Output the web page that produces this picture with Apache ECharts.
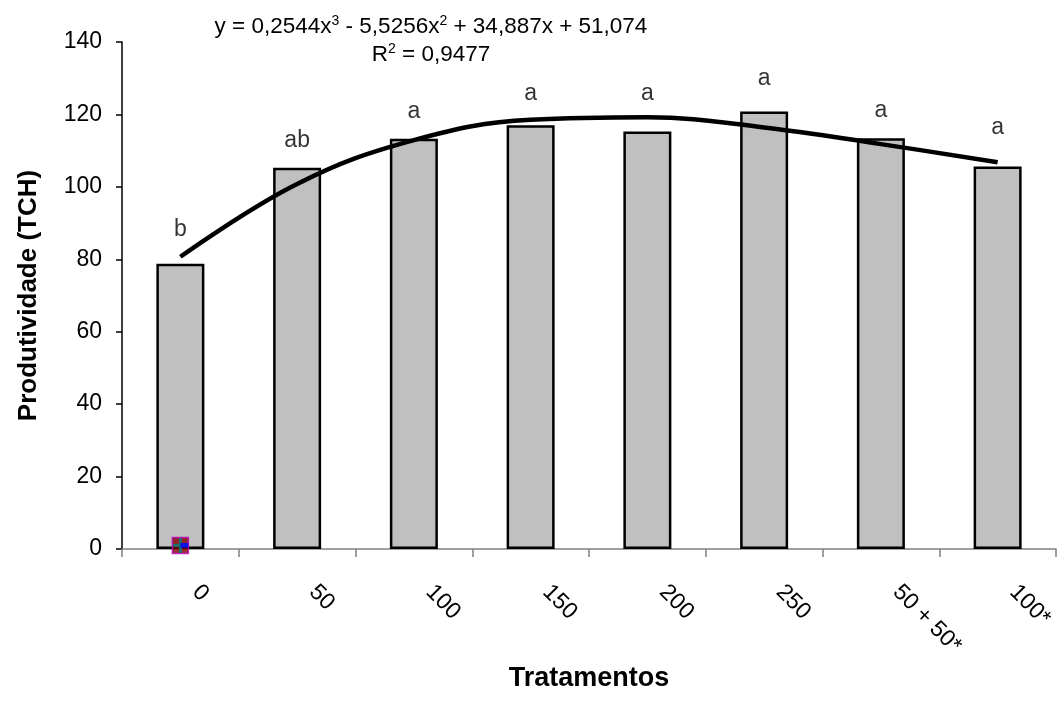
<!DOCTYPE html>
<html>
<head>
<meta charset="utf-8">
<title>Produtividade (TCH)</title>
<script src="https://cdn.jsdelivr.net/npm/echarts@6/dist/echarts.min.js"></script>
<style>
  html, body { margin: 0; padding: 0; background: #fff; }
  #chart { width: 1059px; height: 711px; }
</style>
</head>
<body>
<div id="chart"></div>
<script>
// Produtividade por tratamento, com curva de tendência polinomial (grau 3)
var tratamentos = ['0', '50', '100', '150', '200', '250', '50 + 50*', '100*'];
var produtividade = [78.8, 105.3, 113.3, 117.0, 115.3, 120.8, 113.4, 105.6];
var letras = ['b', 'ab', 'a', 'a', 'a', 'a', 'a', 'a'];
var letrasY = [88.2, 112.8, 120.7, 125.8, 125.8, 129.8, 121.0, 116.4];
var tendencia = [80.7, 100.8, 112.9, 118.5, 119.2, 116.4, 111.8, 106.8];
var marcador = [[0, 1]];

var FONTE = '"Liberation Sans", Arial, sans-serif';
var SUP = { fontSize: 14, verticalAlign: 'bottom', padding: [0, 0, 12, 0] };

var chart = echarts.init(document.getElementById('chart'));

var option = {
  backgroundColor: '#fff',
  animation: false,
  textStyle: { fontFamily: FONTE, color: '#000' },
  grid: { left: 122, right: 3, top: 42, bottom: 162 },
  graphic: [
    {
      type: 'text', x: 431, y: 27,
      style: {
        text: 'y = 0,2544x{s|3} - 5,5256x{s|2} + 34,887x + 51,074',
        font: '22.5px ' + FONTE, fill: '#000', align: 'center', verticalAlign: 'middle',
        rich: { s: SUP }
      }
    },
    {
      type: 'text', x: 431, y: 55,
      style: {
        text: 'R{s|2} = 0,9477',
        font: '22.5px ' + FONTE, fill: '#000', align: 'center', verticalAlign: 'middle',
        rich: { s: SUP }
      }
    }
  ],
  xAxis: {
    type: 'category',
    data: tratamentos,
    name: 'Tratamentos',
    nameLocation: 'middle',
    nameGap: 116,
    nameTextStyle: { fontSize: 27, fontWeight: 'bold', color: '#000', fontFamily: FONTE },
    axisLine: { lineStyle: { color: '#808080', width: 1.5 } },
    axisTick: { show: true, length: 8, interval: 0, lineStyle: { color: '#808080', width: 1.5 } },
    axisLabel: {
      rotate: -45, margin: 24, fontSize: 23, color: '#000', interval: 0,
      padding: [0, 0, 0, 22], fontFamily: FONTE
    },
    splitLine: { show: false }
  },
  yAxis: {
    type: 'value',
    min: 0, max: 140, interval: 20,
    name: 'Produtividade (TCH)',
    nameLocation: 'middle',
    nameGap: 80,
    nameTextStyle: { fontSize: 26, fontWeight: 'bold', color: '#000', fontFamily: FONTE },
    axisLine: { show: true, lineStyle: { color: '#000', width: 1.5 } },
    axisTick: { show: true, length: 6, lineStyle: { color: '#000', width: 1.5 } },
    axisLabel: { fontSize: 23, color: '#000', margin: 20, fontFamily: FONTE },
    splitLine: { show: false }
  },
  series: [
    {
      name: 'Produtividade',
      type: 'bar',
      data: produtividade,
      barWidth: 48,
      itemStyle: { color: '#C0C0C0', borderColor: '#000', borderWidth: 2.5 },
      z: 2
    },
    {
      name: 'Tendência',
      type: 'line',
      data: tendencia,
      smooth: 0.4,
      symbol: 'none',
      lineStyle: { color: '#000', width: 4.5 },
      z: 3
    },
    {
      name: 'Letras',
      type: 'scatter',
      data: letrasY.map(function (v, i) { return { value: [i, v], label: { formatter: letras[i] } }; }),
      symbolSize: 1,
      itemStyle: { color: 'rgba(0,0,0,0)' },
      label: { show: true, position: 'inside', fontSize: 23, color: '#000', fontFamily: FONTE },
      z: 4
    },
    {
      name: 'Marcador',
      type: 'scatter',
      data: marcador,
      symbol: 'rect',
      symbolSize: 16,
      itemStyle: { color: '#800000', borderColor: '#C000C0', borderWidth: 1.5 },
      z: 5
    },
    {
      name: 'Marcador cruz',
      type: 'scatter',
      data: marcador,
      symbol: 'path://M4,0 L6,0 L6,4 L10,4 L10,6 L6,6 L6,10 L4,10 L4,6 L0,6 L0,4 L4,4 Z',
      symbolSize: 15,
      itemStyle: { color: '#008080' },
      z: 6
    },
    {
      name: 'Marcador traço',
      type: 'scatter',
      data: marcador,
      symbol: 'rect',
      symbolSize: [8, 5],
      symbolOffset: [4, 0],
      itemStyle: { color: '#0000FF' },
      z: 7
    }
  ]
};

chart.setOption(option);
window.addEventListener('resize', function () { chart.resize(); });
</script>
</body>
</html>
